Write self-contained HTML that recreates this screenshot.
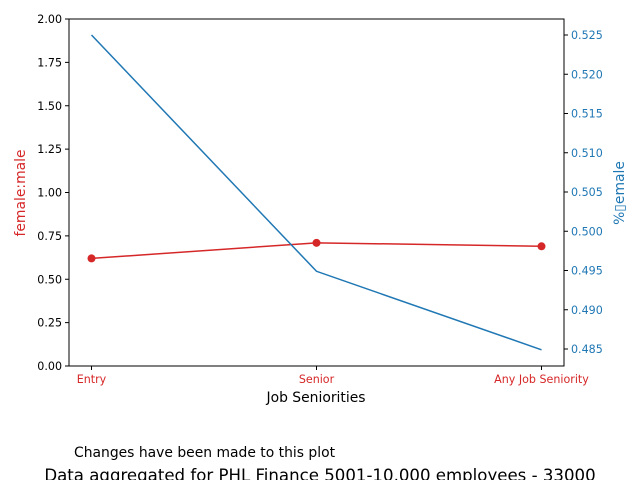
<!DOCTYPE html>
<html><head><meta charset="utf-8"><style>
body{margin:0;background:#fff;}
svg text{font-family:"DejaVu Sans","Liberation Sans",sans-serif;}
</style></head><body>
<svg id="c" width="640" height="480" xmlns="http://www.w3.org/2000/svg"></svg>
<script>
const categories=["Entry","Senior","Any Job Seniority"];
const ratioValues=[0.62,0.71,0.69];
const pctFemaleValues=[0.525,0.4949,0.4849];
const leftTicks=[0,0.25,0.5,0.75,1.0,1.25,1.5,1.75,2.0];
const leftTickLabels=["0.00","0.25","0.50","0.75","1.00","1.25","1.50","1.75","2.00"];
const rightTicks=[0.485,0.49,0.495,0.5,0.505,0.51,0.515,0.52,0.525];
const rightTickLabels=["0.485","0.490","0.495","0.500","0.505","0.510","0.515","0.520","0.525"];

const svg=document.getElementById('c');
const NS="http://www.w3.org/2000/svg";
const L=69,R=564,T=19,B=366;
const xS=i=>L+(i+0.1)/2.2*(R-L);
const yL=v=>B-v/2*(B-T);
const yR=v=>35+(0.525-v)*7850;
function mk(tag,attrs,name,text){
  const e=document.createElementNS(NS,tag);
  for(const k in attrs)e.setAttribute(k,attrs[k]);
  
  
  if(text!==undefined)e.textContent=text;
  svg.appendChild(e);return e;
}
mk('rect',{x:L,y:T,width:R-L,height:B-T,fill:'none',stroke:'#000','stroke-width':1},'plot-frame');
leftTicks.forEach((v,i)=>{
  const y=yL(v);
  mk('line',{x1:L-4,x2:L,y1:y,y2:y,stroke:'#000'},'left-tick');
  mk('text',{x:L-7,y:y+4,'font-size':11.1,'text-anchor':'end',fill:'#000'},'left-tick-label',leftTickLabels[i]);
});
rightTicks.forEach((v,i)=>{
  const y=yR(v);
  mk('line',{x1:R,x2:R+4,y1:y,y2:y,stroke:'#000'},'right-tick');
  mk('text',{x:R+7,y:y+4,'font-size':11.1,fill:'#1f77b4'},'right-tick-label',rightTickLabels[i]);
});
categories.forEach((c,i)=>{
  const x=xS(i);
  mk('line',{x1:x,x2:x,y1:B,y2:B+4,stroke:'#000'},'x-tick');
  mk('text',{x:x,y:B+17,'font-size':11.1,'text-anchor':'middle',fill:'#d62728'},'x-tick-label',c);
});
mk('polyline',{points:ratioValues.map((v,i)=>xS(i)+','+yL(v)).join(' '),fill:'none',stroke:'#d62728','stroke-width':1.5},'ratio-line');
ratioValues.forEach((v,i)=>mk('circle',{cx:xS(i),cy:yL(v),r:4,fill:'#d62728'},'ratio-point'));
mk('polyline',{points:pctFemaleValues.map((v,i)=>xS(i)+','+yR(v)).join(' '),fill:'none',stroke:'#1f77b4','stroke-width':1.5},'pct-female-line');
mk('text',{x:316,y:402,'font-size':13.9,'text-anchor':'middle'},'x-axis-title','Job Seniorities');
mk('text',{x:0,y:0,'font-size':13.9,'text-anchor':'middle',fill:'#d62728',transform:'translate(25,193) rotate(-90)'},'left-axis-title','female:male');
mk('text',{x:0,y:0,'font-size':13.9,'text-anchor':'middle',fill:'#1f77b4',transform:'translate(624,193) rotate(-90)'},'right-axis-title','%\u25AFemale');
mk('text',{x:74,y:457,'font-size':13.9},'note','Changes have been made to this plot');
mk('text',{x:320,y:481,'font-size':16.6,'text-anchor':'middle'},'caption','Data aggregated for PHL Finance 5001-10,000 employees - 33000');
</script>
</body></html>
